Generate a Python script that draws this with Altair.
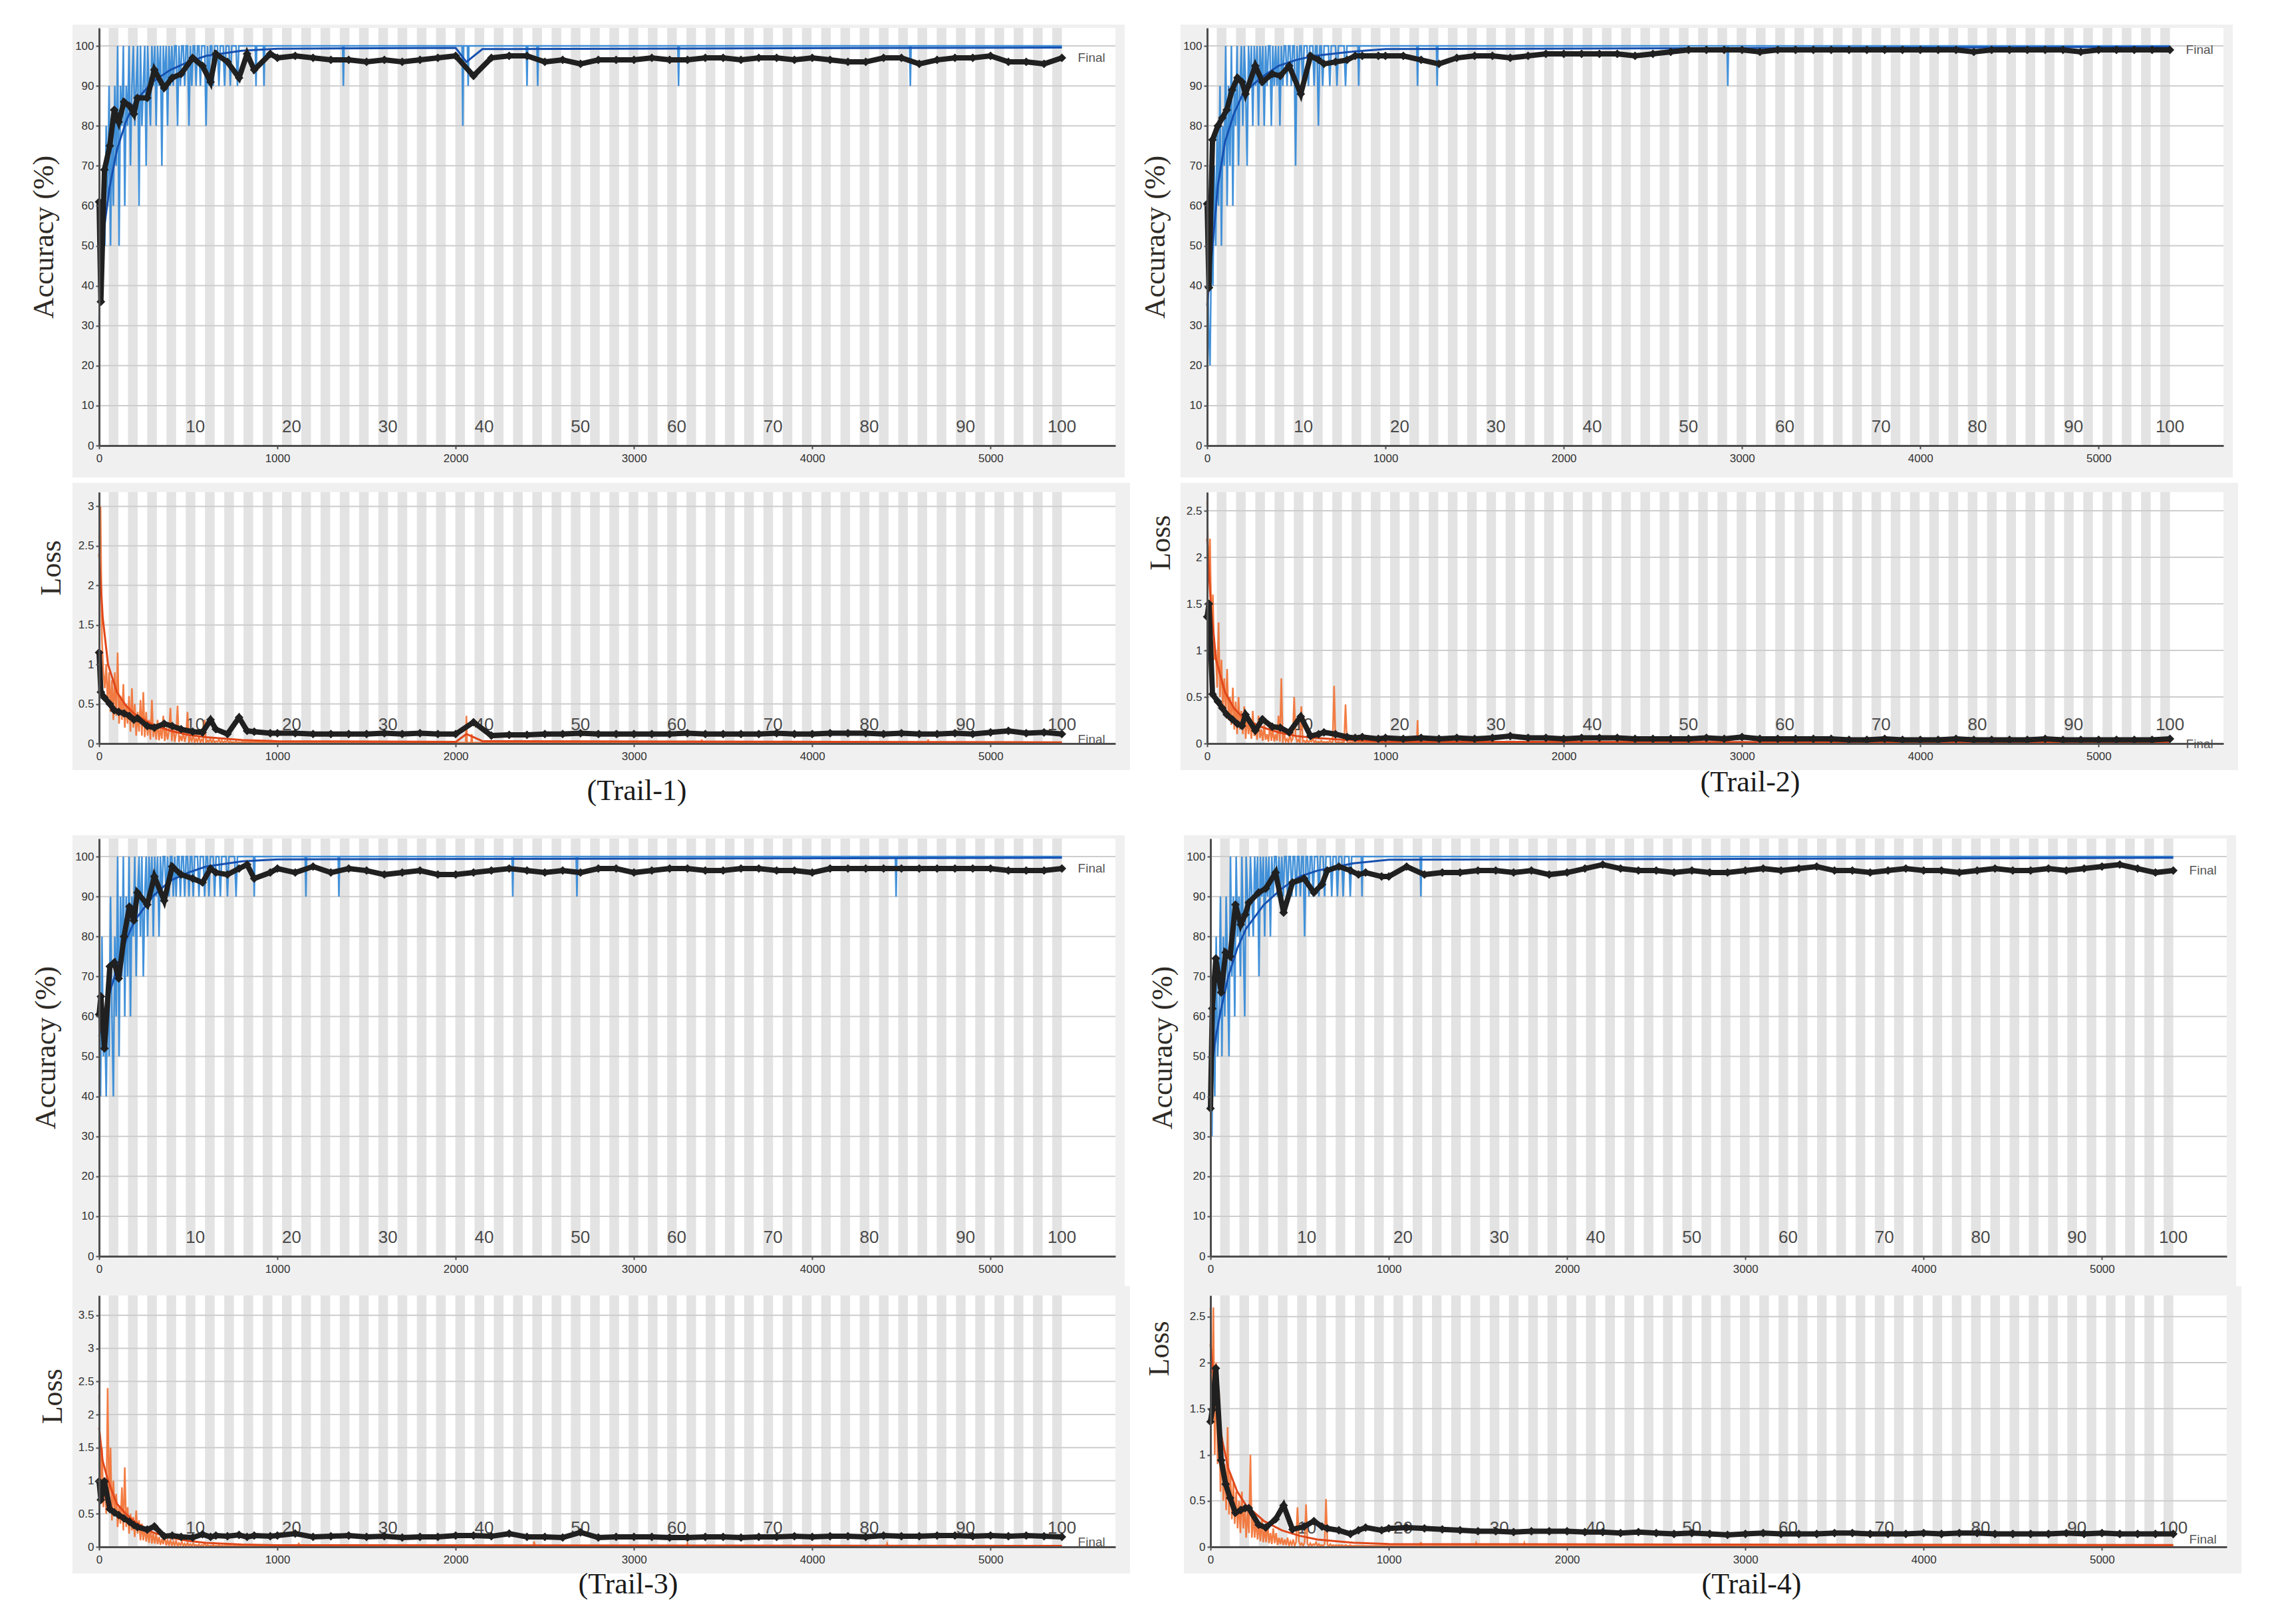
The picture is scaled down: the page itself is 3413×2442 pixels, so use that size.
import altair as alt
import pandas as pd

# ---------------- shared structure ----------------
ITERS_PER_EPOCH = 54
N_EPOCHS = 100
TOTAL_ITERS = 5400
X_DOMAIN = [0, 5700]

x_tick_values = [0, 1000, 2000, 3000, 4000, 5000]
acc_tick_values = [0, 10, 20, 30, 40, 50, 60, 70, 80, 90, 100]
epoch_label_values = [10, 20, 30, 40, 50, 60, 70, 80, 90, 100]
trail_names = ["(Trail-1)", "(Trail-2)", "(Trail-3)", "(Trail-4)"]
loss_max = [3.18, 2.7, 3.8, 2.73]
loss_ticks = [
    [0, 0.5, 1, 1.5, 2, 2.5, 3],
    [0, 0.5, 1, 1.5, 2, 2.5],
    [0, 0.5, 1, 1.5, 2, 2.5, 3, 3.5],
    [0, 0.5, 1, 1.5, 2, 2.5],
]

# validation schedule (iterations)
val_iters = [0, 10, 30, 60, 85, 110, 140, 170, 195, 215, 270, 310, 365, 410,
             460, 525, 580, 625, 655, 720, 785, 830, 870, 960,
             1000, 1100, 1200, 1300, 1400, 1500, 1600, 1700, 1800, 1900,
             2000, 2100, 2200, 2300, 2400, 2500, 2600, 2700, 2800, 2900,
             3000, 3100, 3200, 3300, 3400, 3500, 3600, 3700, 3800, 3900,
             4000, 4100, 4200, 4300, 4400, 4500, 4600, 4700, 4800, 4900,
             5000, 5100, 5200, 5300, 5400]
# raw mini-batch samples during the first epochs
train_iters_early = list(range(0, 801, 8))

# ---------------- Trail-1 ----------------
t1_val_acc = [61, 36, 69, 75, 84, 81, 86, 85, 83, 87, 87, 94, 89.5, 92, 93, 97, 95, 91, 98, 96, 92, 98, 94, 98,
              97, 97.5, 97, 96.5, 96.5, 96, 96.5, 96, 96.5, 97,
              97.5, 92.5, 97, 97.5, 97.5, 96, 96.5, 95.5, 96.5, 96.5,
              96.5, 97, 96.5, 96.5, 97, 97, 96.5, 97, 97, 96.5,
              97, 96.5, 96, 96, 97, 97, 95.5, 96.5, 97, 97,
              97.5, 96, 96, 95.5, 97]
t1_val_loss = [1.15, 0.65, 0.58, 0.5, 0.42, 0.4, 0.38, 0.35, 0.3, 0.32, 0.22, 0.2, 0.25, 0.22, 0.18, 0.15, 0.14, 0.3, 0.18, 0.12, 0.33, 0.16, 0.15, 0.13,
               0.13, 0.13, 0.12, 0.12, 0.12, 0.12, 0.13, 0.12, 0.13, 0.12,
               0.12, 0.27, 0.1, 0.11, 0.11, 0.12, 0.12, 0.13, 0.12, 0.12,
               0.12, 0.12, 0.12, 0.13, 0.12, 0.12, 0.12, 0.12, 0.13, 0.12,
               0.12, 0.13, 0.13, 0.13, 0.12, 0.13, 0.12, 0.12, 0.13, 0.12,
               0.14, 0.16, 0.13, 0.14, 0.12]
t1_train_acc = [30, 60, 40, 70, 50, 80, 60, 90, 50, 80,
                60, 90, 70, 100, 50, 90, 80, 100, 60, 90,
                80, 100, 70, 90, 100, 80, 90, 100, 60, 100,
                80, 90, 100, 70, 100, 90, 80, 100, 90, 100,
                80, 100, 90, 100, 70, 100, 90, 100, 80, 100,
                90, 100, 90, 100, 100, 80, 100, 90, 100, 100,
                90, 100, 100, 80, 100, 90, 100, 100, 90, 100,
                100, 90, 100, 100, 100, 80, 100, 90, 100, 100,
                90, 100, 100, 100, 90, 100, 100, 100, 90, 100,
                100, 100, 90, 100, 100, 100, 100, 90, 100, 100, 100]
t1_train_loss = [2.6, 3.0, 1.3, 0.9, 0.7, 1.0, 0.5, 0.9, 0.4, 0.8,
                 0.3, 0.9, 0.35, 1.15, 0.25, 0.6, 0.3, 0.75, 0.2, 0.5,
                 0.25, 0.6, 0.15, 0.7, 0.2, 0.5, 0.1, 0.4, 0.15, 0.55,
                 0.1, 0.65, 0.08, 0.4, 0.1, 0.3, 0.05, 0.55, 0.08, 0.25,
                 0.05, 0.3, 0.04, 0.2, 0.06, 0.35, 0.03, 0.2, 0.05, 0.15,
                 0.45, 0.03, 0.25, 0.02, 0.12, 0.48, 0.02, 0.1, 0.03, 0.15,
                 0.02, 0.1, 0.4, 0.01, 0.08, 0.03, 0.12, 0.01, 0.06, 0.02,
                 0.1, 0.01, 0.05, 0.02, 0.3, 0.01, 0.04, 0.02, 0.06, 0.01,
                 0.05, 0.01, 0.03, 0.02, 0.05, 0.01, 0.04, 0.01, 0.03, 0.02,
                 0.04, 0.01, 0.03, 0.01, 0.02, 0.01, 0.03, 0.01, 0.02, 0.01, 0.02]
t1_acc_dips = [(880, 90), (925, 90), (1370, 90), (2040, 80), (2070, 90), (2400, 90), (2460, 90), (3250, 90), (4550, 90)]
t1_loss_spikes = [(2060, 0.35), (2090, 0.12), (3380, 0.05), (4650, 0.05)]
t1_acc_smooth = [(0, 40), (30, 55), (60, 65), (100, 74), (150, 81), (200, 86), (300, 91), (400, 94), (500, 96),
                 (600, 97.5), (800, 98.8), (1000, 99.3), (2000, 99.5), (2060, 96), (2150, 99.2), (5400, 99.6)]
t1_loss_smooth = [(0, 2.4), (20, 1.6), (50, 1.0), (100, 0.65), (150, 0.48), (200, 0.37), (300, 0.24), (400, 0.16),
                  (500, 0.11), (600, 0.08), (800, 0.045), (1000, 0.03), (2000, 0.02), (2060, 0.12), (2150, 0.03), (5400, 0.015)]

# ---------------- Trail-2 ----------------
t2_val_acc = [60.5, 39.5, 76.5, 80, 82, 84, 89, 92, 91, 88, 95, 91, 93, 92.5, 95, 88, 97.5, 96.5, 95.5, 96, 96.5, 97.5, 97.5, 97.5,
              97.5, 97.5, 96.5, 95.5, 97, 97.5, 97.5, 97, 97.5, 98,
              98, 98, 98, 98, 97.5, 98, 98.5, 99, 99, 99,
              99, 98.5, 99, 99, 99, 99, 99, 99, 99, 99,
              99, 99, 99, 98.5, 99, 99, 99, 99, 99, 98.5,
              99, 99, 99, 99, 99]
t2_val_loss = [1.36, 1.5, 0.53, 0.45, 0.38, 0.31, 0.26, 0.21, 0.19, 0.31, 0.14, 0.26, 0.18, 0.17, 0.12, 0.29, 0.08, 0.1, 0.12, 0.1, 0.07, 0.06, 0.07, 0.05,
               0.06, 0.05, 0.06, 0.05, 0.06, 0.05, 0.06, 0.08, 0.06, 0.06,
               0.05, 0.06, 0.06, 0.06, 0.05, 0.05, 0.05, 0.05, 0.06, 0.05,
               0.07, 0.05, 0.05, 0.05, 0.05, 0.05, 0.04, 0.04, 0.05, 0.04,
               0.04, 0.04, 0.05, 0.04, 0.04, 0.04, 0.04, 0.05, 0.04, 0.04,
               0.04, 0.04, 0.04, 0.04, 0.05]
t2_train_acc = [60, 30, 20, 50, 40, 70, 50, 80, 60, 90,
                50, 80, 70, 100, 60, 90, 70, 100, 60, 90,
                80, 100, 70, 90, 100, 80, 100, 90, 70, 100,
                90, 100, 80, 100, 90, 100, 80, 100, 90, 100,
                80, 100, 90, 100, 100, 80, 100, 90, 100, 90,
                100, 80, 100, 90, 100, 100, 90, 100, 100, 90,
                100, 100, 70, 100, 90, 100, 100, 90, 100, 100,
                100, 90, 100, 100, 100, 90, 100, 100, 80, 100,
                100, 90, 100, 100, 100, 100, 90, 100, 100, 100,
                100, 90, 100, 100, 100, 100, 100, 90, 100, 100, 100]
t2_train_loss = [2.6, 1.8, 2.2, 1.2, 1.6, 0.9, 1.0, 0.6, 1.3, 0.5,
                 0.9, 0.4, 0.7, 0.3, 0.8, 0.25, 0.5, 0.2, 0.6, 0.15,
                 0.45, 0.1, 0.5, 0.15, 0.35, 0.1, 0.4, 0.05, 0.3, 0.1,
                 0.25, 0.05, 0.35, 0.08, 0.2, 0.04, 0.3, 0.06, 0.15, 0.03,
                 0.2, 0.04, 0.1, 0.02, 0.2, 0.03, 0.15, 0.02, 0.1, 0.03,
                 0.3, 0.02, 0.7, 0.01, 0.12, 0.02, 0.05, 0.01, 0.1, 0.02,
                 0.05, 0.5, 0.08, 0.02, 0.04, 0.01, 0.4, 0.02, 0.03, 0.01,
                 0.04, 0.01, 0.03, 0.02, 0.05, 0.01, 0.03, 0.01, 0.02, 0.01,
                 0.03, 0.01, 0.02, 0.01, 0.02, 0.01, 0.03, 0.01, 0.02, 0.62,
                 0.02, 0.01, 0.02, 0.01, 0.01, 0.02, 0.01, 0.42, 0.02, 0.01, 0.01]
t2_acc_dips = [(850, 90), (1180, 90), (1290, 90), (2920, 90)]
t2_loss_spikes = [(1180, 0.25), (2920, 0.06)]
t2_acc_smooth = [(0, 35), (30, 50), (60, 65), (100, 76), (150, 83), (200, 88), (300, 92), (400, 95), (500, 96.5),
                 (600, 97.5), (800, 98.5), (1000, 99.2), (5400, 99.8)]
t2_loss_smooth = [(0, 2.2), (20, 1.5), (50, 0.9), (100, 0.55), (150, 0.38), (200, 0.28), (300, 0.18), (400, 0.12),
                  (500, 0.08), (600, 0.06), (800, 0.035), (1000, 0.02), (5400, 0.01)]

# ---------------- Trail-3 ----------------
t3_val_acc = [60.5, 65, 52, 72.5, 73.5, 69.5, 80, 87.5, 84, 91, 88, 95, 89, 97.5, 95.5, 94.5, 93.5, 97, 96, 95.5, 97, 98, 94.5, 96,
              97, 96, 97.5, 96, 97, 96.5, 95.5, 96, 96.5, 95.5,
              95.5, 96, 96.5, 97, 96.5, 96, 96.5, 96, 97, 97,
              96, 96.5, 97, 97, 96.5, 96.5, 97, 97, 96.5, 96.5,
              96, 97, 97, 97, 97, 97, 97, 97, 97, 97,
              97, 96.5, 96.5, 96.5, 97]
t3_val_loss = [0.99, 0.71, 0.99, 0.57, 0.52, 0.48, 0.43, 0.38, 0.33, 0.3, 0.26, 0.31, 0.16, 0.17, 0.15, 0.14, 0.19, 0.15, 0.17, 0.16, 0.18, 0.15, 0.17, 0.16,
               0.17, 0.2, 0.15, 0.16, 0.17, 0.15, 0.16, 0.14, 0.15, 0.15,
               0.17, 0.17, 0.16, 0.2, 0.15, 0.15, 0.14, 0.22, 0.14, 0.15,
               0.15, 0.15, 0.14, 0.14, 0.15, 0.15, 0.14, 0.15, 0.15, 0.16,
               0.15, 0.16, 0.16, 0.15, 0.17, 0.16, 0.16, 0.17, 0.17, 0.16,
               0.17, 0.16, 0.17, 0.16, 0.15]
t3_train_acc = [60, 40, 80, 50, 60, 40, 70, 50, 90, 60,
                40, 80, 60, 100, 50, 90, 70, 100, 60, 90,
                70, 100, 60, 90, 80, 100, 70, 90, 100, 80,
                100, 70, 90, 100, 80, 100, 90, 100, 80, 100,
                90, 100, 80, 100, 90, 100, 100, 90, 100, 90,
                100, 100, 90, 100, 90, 100, 100, 90, 100, 100,
                90, 100, 100, 90, 100, 100, 90, 100, 100, 100,
                90, 100, 100, 100, 90, 100, 100, 90, 100, 100,
                100, 90, 100, 100, 100, 90, 100, 100, 100, 100,
                90, 100, 100, 100, 100, 100, 90, 100, 100, 100, 100]
t3_train_loss = [2.3, 0.9, 1.5, 0.6, 1.0, 0.5, 2.4, 0.7, 1.5, 0.4,
                 1.0, 0.5, 0.8, 0.3, 0.6, 0.35, 0.9, 0.25, 1.2, 0.3,
                 0.6, 0.2, 0.5, 0.25, 0.45, 0.15, 0.55, 0.2, 0.4, 0.1,
                 0.35, 0.1, 0.3, 0.08, 0.25, 0.06, 0.3, 0.05, 0.2, 0.05,
                 0.2, 0.04, 0.15, 0.03, 0.12, 0.04, 0.18, 0.02, 0.1, 0.03,
                 0.1, 0.02, 0.08, 0.02, 0.1, 0.01, 0.06, 0.02, 0.08, 0.01,
                 0.05, 0.01, 0.06, 0.02, 0.04, 0.01, 0.05, 0.02, 0.03, 0.01,
                 0.04, 0.01, 0.03, 0.02, 0.05, 0.01, 0.03, 0.01, 0.02, 0.01,
                 0.03, 0.01, 0.02, 0.01, 0.03, 0.01, 0.02, 0.01, 0.02, 0.01,
                 0.02, 0.01, 0.02, 0.01, 0.01, 0.02, 0.01, 0.01, 0.02, 0.01, 0.01]
t3_acc_dips = [(870, 90), (1160, 90), (1345, 90), (2320, 90), (2680, 90), (4470, 90)]
t3_loss_spikes = [(1120, 0.06), (2440, 0.08), (3300, 0.05), (4420, 0.05)]
t3_acc_smooth = [(0, 55), (30, 60), (60, 66), (100, 72), (150, 79), (200, 84), (300, 90), (400, 94), (500, 96),
                 (600, 97.5), (800, 98.8), (1000, 99.3), (5400, 99.7)]
t3_loss_smooth = [(0, 1.8), (20, 1.3), (50, 1.0), (100, 0.65), (150, 0.5), (200, 0.38), (300, 0.22), (400, 0.14),
                  (500, 0.09), (600, 0.06), (800, 0.035), (1000, 0.025), (5400, 0.015)]

# ---------------- Trail-4 ----------------
t4_val_acc = [37, 62, 74.5, 66, 76, 75, 88, 83, 85.5, 88.5, 91, 92, 96, 86, 93.5, 94.5, 91, 93, 96.5, 97.5, 96.5, 95.5, 96, 95,
              95, 97.5, 95.5, 96, 96, 96.5, 96.5, 96, 96.5, 95.5,
              96, 97, 98, 97, 96.5, 96.5, 96, 96.5, 96, 96,
              96.5, 97, 96.5, 97, 97.5, 96.5, 96.5, 96, 96.5, 97,
              96.5, 96.5, 96, 96.5, 97, 96.5, 96.5, 97, 96.5, 97,
              97.5, 98, 97, 96, 96.5]
t4_val_loss = [1.36, 1.49, 1.94, 0.94, 0.68, 0.53, 0.37, 0.4, 0.42, 0.42, 0.24, 0.21, 0.3, 0.45, 0.19, 0.22, 0.28, 0.22, 0.2, 0.18, 0.14, 0.18, 0.21, 0.18,
               0.2, 0.21, 0.2, 0.19, 0.18, 0.17, 0.17, 0.16, 0.17, 0.17,
               0.17, 0.16, 0.16, 0.15, 0.16, 0.15, 0.14, 0.15, 0.14, 0.13,
               0.14, 0.15, 0.14, 0.14, 0.14, 0.15, 0.15, 0.14, 0.14, 0.14,
               0.15, 0.14, 0.15, 0.15, 0.14, 0.14, 0.14, 0.14, 0.15, 0.14,
               0.15, 0.14, 0.14, 0.14, 0.14]
t4_train_acc = [40, 30, 70, 40, 80, 50, 60, 90, 50, 80,
                60, 90, 70, 50, 100, 70, 90, 60, 100, 80,
                90, 70, 100, 80, 60, 100, 90, 80, 100, 90,
                80, 100, 90, 100, 70, 100, 90, 100, 80, 100,
                90, 100, 80, 100, 90, 100, 100, 90, 100, 90,
                100, 90, 100, 100, 90, 100, 100, 90, 100, 100,
                90, 100, 100, 90, 100, 100, 80, 100, 100, 90,
                100, 100, 90, 100, 100, 100, 90, 100, 100, 100,
                90, 100, 100, 100, 100, 90, 100, 100, 100, 90,
                100, 100, 100, 90, 100, 100, 100, 100, 90, 100, 100]
t4_train_loss = [2.6, 1.5, 2.6, 1.0, 2.0, 0.9, 1.7, 0.6, 1.2, 0.5,
                 0.9, 0.4, 1.3, 0.35, 0.8, 0.3, 0.7, 0.25, 0.6, 0.2,
                 0.5, 0.15, 0.6, 0.2, 0.45, 0.1, 0.4, 0.15, 1.0, 0.1,
                 0.35, 0.1, 0.3, 0.08, 0.25, 0.06, 0.3, 0.05, 0.2, 0.05,
                 0.25, 0.04, 0.15, 0.03, 0.2, 0.04, 0.15, 0.02, 0.1, 0.03,
                 0.1, 0.02, 0.08, 0.02, 0.1, 0.01, 0.06, 0.02, 0.08, 0.01,
                 0.05, 0.43, 0.06, 0.02, 0.04, 0.01, 0.05, 0.46, 0.03, 0.01,
                 0.04, 0.01, 0.03, 0.02, 0.05, 0.01, 0.03, 0.01, 0.02, 0.01,
                 0.03, 0.52, 0.02, 0.01, 0.03, 0.01, 0.02, 0.01, 0.02, 0.01,
                 0.02, 0.01, 0.02, 0.01, 0.01, 0.02, 0.01, 0.01, 0.02, 0.01, 0.01]
t4_acc_dips = [(850, 90), (1180, 90)]
t4_loss_spikes = [(1180, 0.05), (1490, 0.04), (1760, 0.04)]
t4_acc_smooth = [(0, 45), (30, 55), (60, 62), (100, 70), (150, 77), (200, 82), (300, 88), (400, 92), (500, 95),
                 (600, 96.5), (800, 98.3), (1000, 99.2), (5400, 99.7)]
t4_loss_smooth = [(0, 2.2), (20, 1.8), (50, 1.3), (100, 0.85), (150, 0.6), (200, 0.45), (300, 0.28), (400, 0.18),
                  (500, 0.12), (600, 0.08), (800, 0.045), (1000, 0.03), (5400, 0.02)]

# layout / style (pixels)
W = 1528
HA = 628
HL = 378
acc_title_x = [-83, -78, -80, -72]
loss_title_x = [-72, -70, -70, -77]
loss_title_frac = [0.3, 0.2, 0.4, 0.21]
caption_dx = [44, 52, 31, 49]
caption_dy = [71, 58, 56, 56]

AXIS_COLOR = "#4d4d4d"
STRIPE = "#e3e3e3"
GRID = "#cdcdcd"
BG = "#f0f0f0"
SANS = "Liberation Sans"
SERIF = "Liberation Serif"

stripe_df = pd.DataFrame({
    "x0": [e * ITERS_PER_EPOCH for e in range(1, N_EPOCHS, 2)],
    "x1": [(e + 1) * ITERS_PER_EPOCH for e in range(1, N_EPOCHS, 2)],
})
epoch_df = pd.DataFrame({
    "it": [e * ITERS_PER_EPOCH for e in epoch_label_values],
    "v": [0] * len(epoch_label_values),
    "lab": [str(e) for e in epoch_label_values],
})
one_row = pd.DataFrame({"k": [0]})


def raw_df(early_vals, spikes, base):
    pts = list(zip(train_iters_early, early_vals))
    for it, v in spikes:
        pts += [(it - 4, base), (it, v), (it + 4, base)]
    pts.append((TOTAL_ITERS, base))
    pts.sort()
    return pd.DataFrame(pts, columns=["it", "v"])


def panel(height, y_max, y_ticks, fmt, y_title, title_x, title_y,
          raw, smooth, val_vals, raw_color, smooth_color, caption=None, cap_x=0, cap_y=0,
          bg_box=(-40, 14, -5, 48), final_dy=0):
    xs = alt.Scale(domain=X_DOMAIN, nice=False, zero=False)
    ys = alt.Scale(domain=[0, y_max], nice=False, zero=False)

    yaxis = alt.Axis(values=y_ticks, format=fmt, title=y_title, grid=False, zindex=2,
                     domainColor=AXIS_COLOR, domainWidth=3, tickColor=AXIS_COLOR, tickWidth=2, tickSize=5,
                     labelFont=SANS, labelFontSize=17, labelColor="#333333", labelPadding=3,
                     titleFont=SERIF, titleFontSize=44, titleFontWeight="normal", titleColor="#2e2a25",
                     titleX=title_x, titleY=title_y, titleBaseline="middle", titleAlign="center",
                     titleAngle=270)
    xkw = dict(values=x_tick_values, format="d", grid=False, labelFlush=False, zindex=2,
               domainColor=AXIS_COLOR, domainWidth=3, tickColor=AXIS_COLOR, tickWidth=2, tickSize=5,
               labelFont=SANS, labelFontSize=17, labelColor="#333333", labelPadding=6)
    if caption:
        xaxis = alt.Axis(title=caption, titleFont=SERIF, titleFontSize=44, titleFontWeight="normal",
                         titleColor="#1a1a1a", titleX=cap_x, titleY=cap_y, titleBaseline="middle",
                         titleAlign="center", **xkw)
    else:
        xaxis = alt.Axis(title="", **xkw)

    X = lambda f: alt.X(f, scale=xs, axis=xaxis)
    Y = lambda f: alt.Y(f, scale=ys, axis=yaxis)

    gx0, gx1, gy0, gy1 = bg_box
    bg = alt.Chart(one_row).mark_rect(color=BG).encode(
        x=alt.value(gx0), x2=alt.value(W + gx1), y=alt.value(gy0), y2=alt.value(height + gy1))
    white = alt.Chart(one_row).mark_rect(color="white").encode(
        x=alt.value(0), x2=alt.value(W), y=alt.value(0), y2=alt.value(height))
    stripes = alt.Chart(stripe_df).mark_rect(color=STRIPE).encode(
        x=X("x0:Q"), x2="x1:Q", y=alt.value(0), y2=alt.value(height))
    grid = alt.Chart(pd.DataFrame({"v": y_ticks})).mark_rule(color=GRID, strokeWidth=2).encode(
        y=Y("v:Q"), x=alt.value(0), x2=alt.value(W))
    labels = alt.Chart(epoch_df).mark_text(font=SANS, fontSize=26, color="#4a4a4a", dy=-28,
                                           baseline="middle", align="center").encode(
        x=X("it:Q"), y=Y("v:Q"), text="lab:N")
    raw_line = alt.Chart(raw).mark_line(color=raw_color, strokeWidth=2.5, opacity=0.9).encode(
        x=X("it:Q"), y=Y("v:Q"))
    sm = pd.DataFrame(smooth, columns=["it", "v"])
    smooth_line = alt.Chart(sm).mark_line(color=smooth_color, strokeWidth=3).encode(
        x=X("it:Q"), y=Y("v:Q"))
    vdf = pd.DataFrame({"it": val_iters, "v": val_vals})
    val_line = alt.Chart(vdf).mark_line(color="#202020", strokeWidth=8).encode(
        x=X("it:Q"), y=Y("v:Q"))
    val_pts = alt.Chart(vdf).mark_point(shape="diamond", filled=True, size=170, color="#202020",
                                        opacity=1).encode(
        x=X("it:Q"), y=Y("v:Q"))
    fdf = pd.DataFrame({"it": [val_iters[-1]], "v": [val_vals[-1]], "t": ["Final"]})
    final = alt.Chart(fdf).mark_text(font=SANS, fontSize=19, color="#555555", align="left",
                                     baseline="middle", dx=24, dy=final_dy).encode(
        x=X("it:Q"), y=Y("v:Q"), text="t:N")
    return alt.layer(bg, white, stripes, grid, labels, raw_line, smooth_line, val_line, val_pts, final
                     ).properties(width=W, height=height)


trails = [
    (t1_val_acc, t1_val_loss, t1_train_acc, t1_train_loss, t1_acc_dips, t1_loss_spikes, t1_acc_smooth, t1_loss_smooth),
    (t2_val_acc, t2_val_loss, t2_train_acc, t2_train_loss, t2_acc_dips, t2_loss_spikes, t2_acc_smooth, t2_loss_smooth),
    (t3_val_acc, t3_val_loss, t3_train_acc, t3_train_loss, t3_acc_dips, t3_loss_spikes, t3_acc_smooth, t3_loss_smooth),
    (t4_val_acc, t4_val_loss, t4_train_acc, t4_train_loss, t4_acc_dips, t4_loss_spikes, t4_acc_smooth, t4_loss_smooth),
]

blocks = []
for i, (va, vl, ta, tl, ad, ls, asm, lsm) in enumerate(trails):
    acc = panel(HA, 104.5, acc_tick_values, "d", "Accuracy (%)", acc_title_x[i], HA * 0.5,
                raw_df(ta, ad, 100), asm, va, "#2f86d6", "#1650b0",
                bg_box=(-40, 14, -5, 48), final_dy=0)
    loss = panel(HL, loss_max[i], loss_ticks[i], "~g", "Loss", loss_title_x[i], HL * loss_title_frac[i],
                 raw_df(tl, ls, 0.01), lsm, vl, "#f26f30", "#e0471a",
                 caption=trail_names[i], cap_x=W / 2 + caption_dx[i], cap_y=caption_dy[i],
                 bg_box=(-40, 22, -14, 40), final_dy=8)
    blocks.append(alt.vconcat(acc, loss, spacing=70 if i < 2 else 59, bounds="flush"))

row1 = alt.hconcat(blocks[0], blocks[1], spacing=14)
row2 = alt.hconcat(blocks[2], blocks[3], spacing=20)

chart = alt.vconcat(row1, row2, spacing=43).properties(
    padding={"left": 35, "top": 28, "right": 5, "bottom": 5},
    background="white",
).configure_view(stroke="transparent")

chart.save("out.html", embed_options={"renderer": "svg", "actions": False})
